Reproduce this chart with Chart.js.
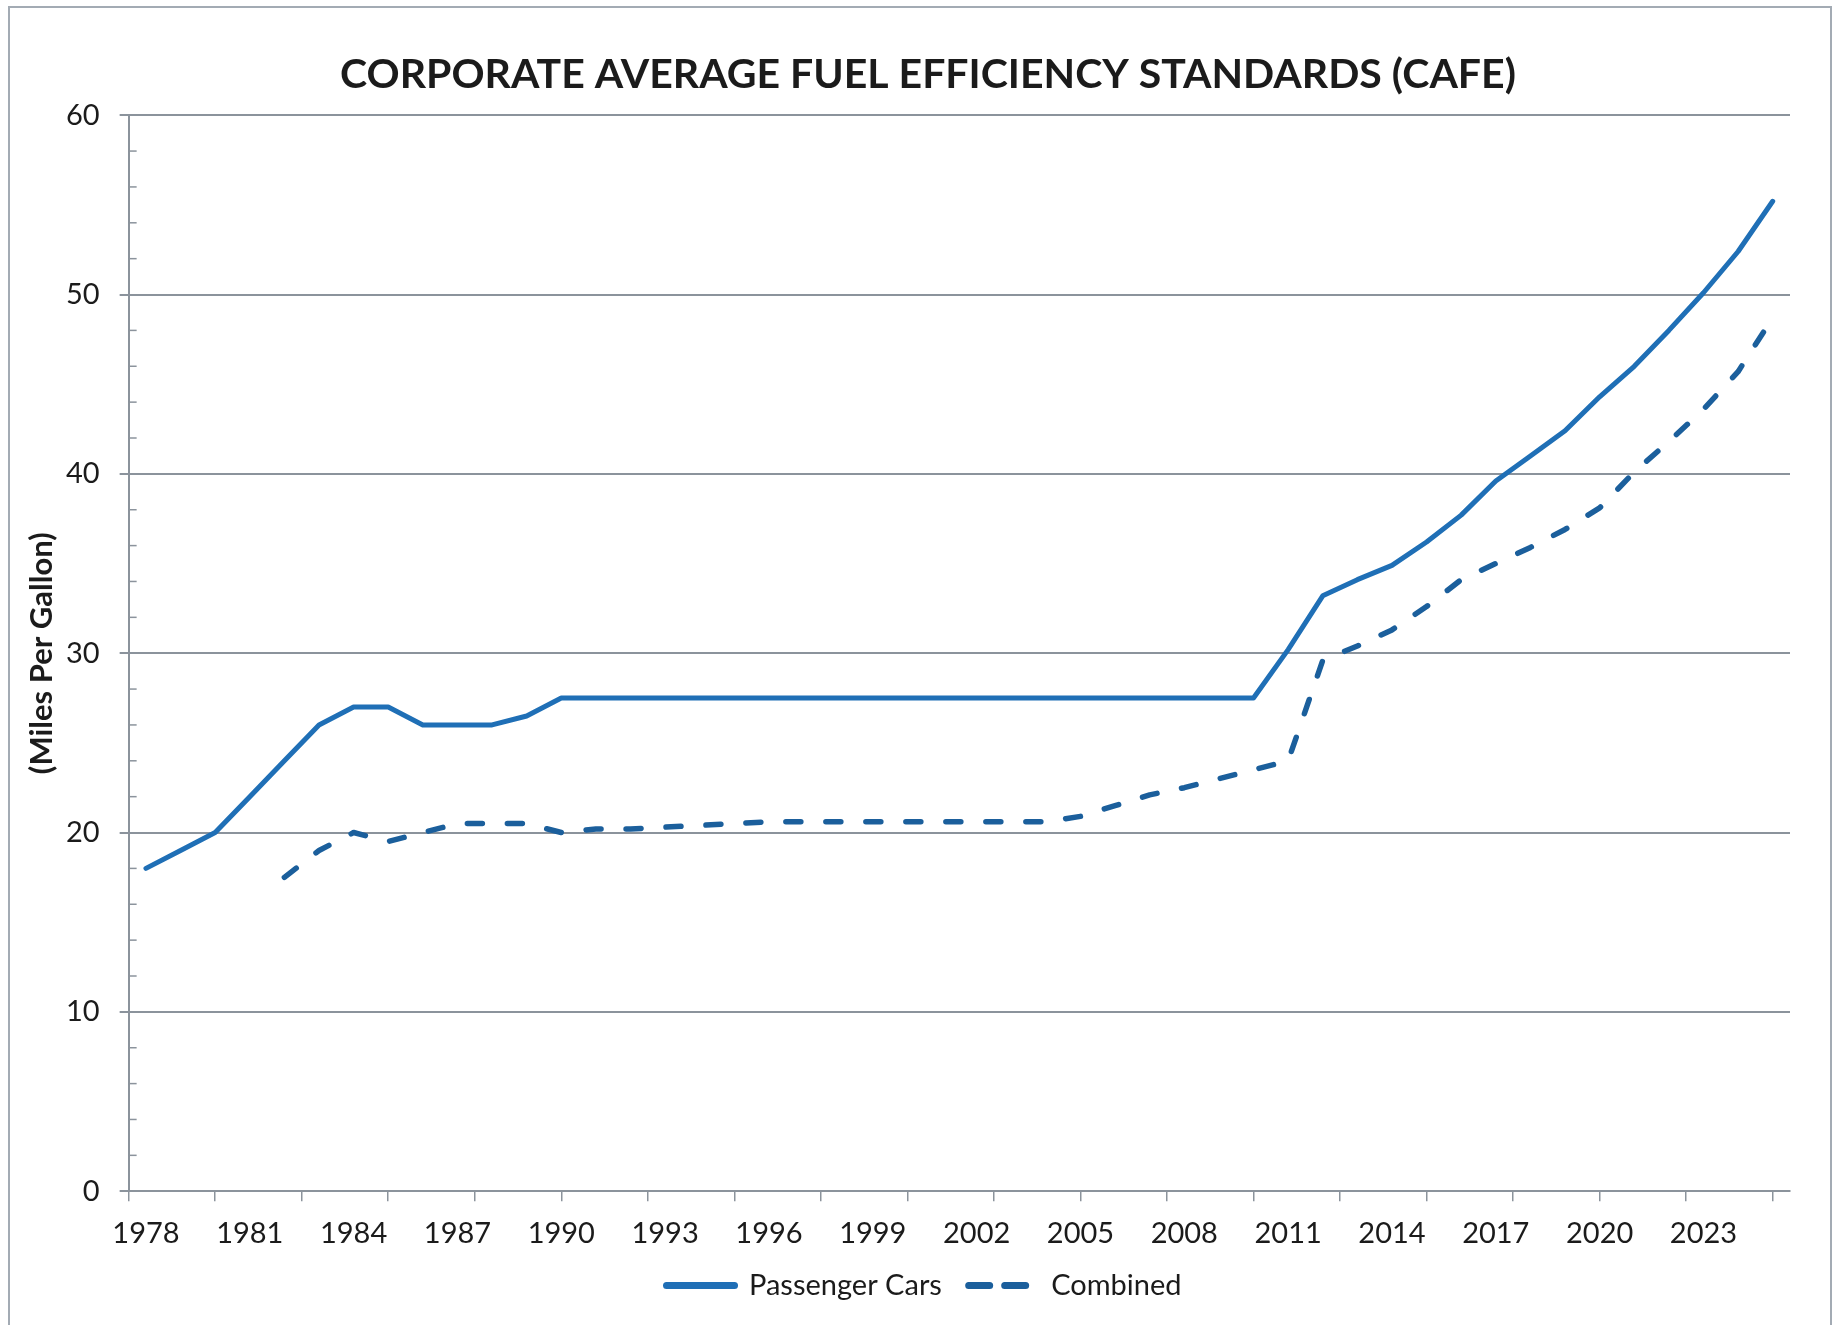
<!DOCTYPE html>
<html>
<head>
<meta charset="utf-8">
<script src="https://cdn.jsdelivr.net/npm/chart.js@4.4.1/dist/chart.umd.min.js"></script>
<style>
  html, body { margin: 0; padding: 0; background: #fff; }
  #wrap { position: relative; width: 1837px; height: 1325px; }
  #frame { position: absolute; left: 8px; top: 6px; width: 1820px; height: 1400px;
           border: 2px solid #a3abb4; pointer-events: none; }
</style>
</head>
<body>
<div id="wrap">
  <canvas id="cafe-chart"></canvas>
  <div id="frame"></div>
</div>
<script>
const years = [
  '1978', '1979', '1980', '1981', '1982', '1983', '1984', '1985', '1986', '1987',
  '1988', '1989', '1990', '1991', '1992', '1993', '1994', '1995', '1996', '1997',
  '1998', '1999', '2000', '2001', '2002', '2003', '2004', '2005', '2006', '2007',
  '2008', '2009', '2010', '2011', '2012', '2013', '2014', '2015', '2016', '2017',
  '2018', '2019', '2020', '2021', '2022', '2023', '2024', '2025',
];

// only every third year gets a label
const yearLabels = [
  '1978', '1981', '1984', '1987', '1990', '1993', '1996', '1999',
  '2002', '2005', '2008', '2011', '2014', '2017', '2020', '2023',
];

const passengerCars = [
  18.0, 19.0, 20.0, 22.0, 24.0, 26.0, 27.0, 27.0, 26.0, 26.0,
  26.0, 26.5, 27.5, 27.5, 27.5, 27.5, 27.5, 27.5, 27.5, 27.5,
  27.5, 27.5, 27.5, 27.5, 27.5, 27.5, 27.5, 27.5, 27.5, 27.5,
  27.5, 27.5, 27.5, 30.2, 33.2, 34.1, 34.9, 36.2, 37.7, 39.6,
  41.0, 42.4, 44.3, 46.0, 48.0, 50.1, 52.4, 55.2,
];

const combined = [
  null, null, null, null, 17.5, 19.0, 20.0, 19.5, 20.0, 20.5,
  20.5, 20.5, 20.0, 20.2, 20.2, 20.3, 20.4, 20.5, 20.6, 20.6,
  20.6, 20.6, 20.6, 20.6, 20.6, 20.6, 20.6, 20.9, 21.5, 22.1,
  22.5, 23.0, 23.5, 24.0, 29.6, 30.4, 31.3, 32.6, 34.1, 35.0,
  35.9, 36.9, 38.1, 40.1, 41.8, 43.6, 45.7, 48.7,
];

const yTicks = [0, 10, 20, 30, 40, 50, 60];
const yTitle = '(Miles Per Gallon)';
const chartTitle = 'CORPORATE AVERAGE FUEL EFFICIENCY STANDARDS (CAFE)';

const gridColor = '#8b939c';
const textColor = '#1b1b1b';
const carsColor = '#1f6fb6';
const combinedColor = '#1b5f9c';

// small inside ticks every 2 mpg, the rotated axis title,
// and a nudge so title/legend sit where the original has them
const axisExtras = {
  id: 'axisExtras',
  afterLayout(chart) {
    chart.titleBlock.left += 10;
    chart.titleBlock.right += 10;
    chart.legend.left += 6;
    chart.legend.right += 6;
  },
  afterDraw(chart) {
    const { ctx } = chart;
    const y = chart.scales.y;
    ctx.save();
    ctx.strokeStyle = gridColor;
    ctx.lineWidth = 1.5;
    for (let v = 2; v < 60; v += 2) {
      if (v % 10 === 0) continue;
      const py = y.getPixelForValue(v);
      ctx.beginPath();
      ctx.moveTo(y.right, py);
      ctx.lineTo(y.right + 8, py);
      ctx.stroke();
    }
    ctx.translate(42, (y.top + y.bottom) / 2);
    ctx.rotate(-Math.PI / 2);
    ctx.font = 'bold 31px Lato';
    ctx.fillStyle = textColor;
    ctx.textAlign = 'center';
    ctx.textBaseline = 'middle';
    ctx.fillText(yTitle, 0, 0);
    ctx.restore();
  },
};

new Chart(document.getElementById('cafe-chart'), {
  type: 'line',
  data: {
    labels: years,
    datasets: [
      {
        label: 'Passenger Cars',
        data: passengerCars,
        borderColor: carsColor,
        backgroundColor: carsColor,
        borderWidth: 5,
        borderJoinStyle: 'round',
        borderCapStyle: 'round',
        tension: 0,
        pointRadius: 0,
      },
      {
        label: 'Combined',
        data: combined,
        borderColor: combinedColor,
        backgroundColor: combinedColor,
        borderWidth: 5.5,
        borderDash: [15, 25],
        borderJoinStyle: 'round',
        borderCapStyle: 'round',
        tension: 0,
        pointRadius: 0,
      },
    ],
  },
  options: {
    responsive: true,
    maintainAspectRatio: false,
    animation: false,
    layout: {
      padding: { left: 46, right: 47, top: 20, bottom: 15 },
    },
    scales: {
      x: {
        type: 'category',
        offset: true,
        weight: 1,
        border: { display: false },
        grid: { display: false, drawTicks: false },
        ticks: {
          autoSkip: false,
          maxRotation: 0,
          padding: 15,
          color: textColor,
          font: { family: 'Lato', size: 29 },
          callback(value) {
            const label = this.getLabelForValue(value);
            return yearLabels.includes(label) ? label : '';
          },
        },
      },
      xTicks: {
        type: 'linear',
        position: 'bottom',
        weight: 0,
        min: 0,
        max: years.length,
        border: { display: true, color: gridColor, width: 2 },
        grid: { drawOnChartArea: false, color: gridColor, lineWidth: 1.5, tickLength: 10 },
        ticks: { display: false, stepSize: 2.5, includeBounds: false },
      },
      y: {
        min: 0,
        max: 60,
        border: { display: true, color: gridColor, width: 2 },
        grid: { color: gridColor, lineWidth: 2, tickLength: 9 },
        afterBuildTicks(scale) {
          scale.ticks = yTicks.map((v) => ({ value: v }));
        },
        ticks: {
          padding: 20,
          color: textColor,
          font: { family: 'Lato', size: 29 },
        },
      },
    },
    plugins: {
      title: {
        display: true,
        text: chartTitle,
        color: textColor,
        font: { family: 'Lato', size: 41, weight: 'bold' },
        padding: { top: 30, bottom: 16 },
      },
      legend: {
        position: 'bottom',
        labels: {
          usePointStyle: true,
          pointStyle: 'line',
          pointStyleWidth: 68,
          padding: 5,
          color: textColor,
          font: { family: 'Lato', size: 29 },
          generateLabels(chart) {
            const items = Chart.defaults.plugins.legend.labels.generateLabels(chart);
            const dashes = [[], [21, 15]];
            items.forEach((item, i) => {
              item.lineWidth = 7;
              item.lineDash = dashes[i];
              item.lineCap = 'round';
              item.pointStyle = 'line';
              // extra room after the first entry, as in the original legend
              if (i === 0) item.text += '\u2003';
            });
            return items;
          },
        },
      },
      tooltip: { enabled: false },
    },
  },
  plugins: [axisExtras],
});
</script>
</body>
</html>
